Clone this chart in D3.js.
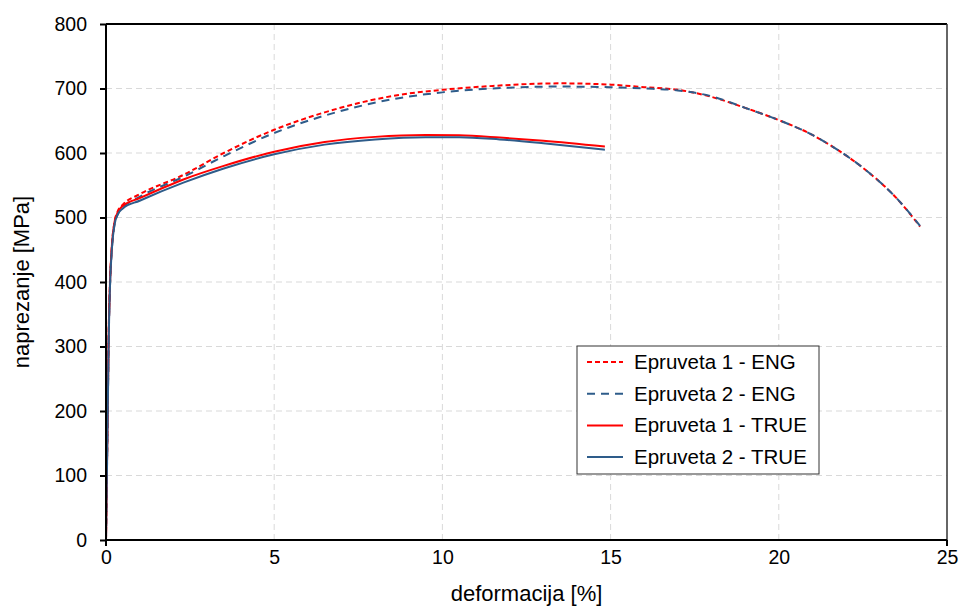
<!DOCTYPE html>
<html><head><meta charset="utf-8">
<script src="https://cdn.jsdelivr.net/npm/d3@7"></script>
<style>body{margin:0;background:#fff}svg{display:block}text{font-family:"Liberation Sans",Arial,sans-serif;fill:#000}</style>
</head><body><svg id="c" width="960" height="607"></svg>
<script>
const xTicks=[0,5,10,15,20,25];
const yTicks=[0,100,200,300,400,500,600,700,800];
const seriesNames=["Epruveta 1 - ENG","Epruveta 2 - ENG","Epruveta 1 - TRUE","Epruveta 2 - TRUE"];
const eng1=[[0,0],[0.05,200],[0.08,320],[0.12,400],[0.18,460],[0.25,492],[0.35,510],[0.5,520],[1,536],[2.3,566],[3.5,600],[5,636],[6.5,663],[8.7,690],[10,698],[11.5,704],[13.5,708],[15,706],[16,702],[17,698],[18,687],[19,670],[20,651],[21,628],[21.5,613],[22.5,577],[23.5,530],[24.2,486]];
const eng2=[[0,0],[0.05,190],[0.08,310],[0.12,395],[0.18,455],[0.25,488],[0.35,505],[0.5,515],[1,532],[2.3,563],[3.5,595],[5,631],[6.5,658],[8.7,685],[10,694],[11.5,700],[13.5,703],[15,702],[16,700],[17,697],[18,688],[19,670],[20,651],[21,628],[21.5,613],[22.5,577],[23.5,530],[24.2,487]];
const true1=[[0,0],[0.05,200],[0.08,320],[0.12,400],[0.18,460],[0.25,492],[0.35,508],[0.5,518],[1,530],[2.3,559],[3.5,580],[5,602],[6.5,617],[8,625],[9.5,628],[10.5,627.5],[11.7,624],[13,619],[14.83,610]];
const true2=[[0,0],[0.05,190],[0.08,310],[0.12,395],[0.18,455],[0.25,488],[0.35,505],[0.5,514],[1,526],[2.3,554],[3.5,576],[5,598],[6.5,613],[8,621],[9.5,624.5],[10.5,624.5],[11.7,621],[13,615],[14.83,605]];
const colors=["#ff0000","#2e5c8a","#ff0000","#2e5c8a"];
const dashes=["5,3","8,6",null,null];
const data=[eng1,eng2,true1,true2];

const svg=d3.select("#c");
const L=106,R=947,T=24,B=540;
const x=d3.scaleLinear().domain([0,25]).range([L,R]);
const y=d3.scaleLinear().domain([0,800]).range([B,T]);

const g=svg.append("g");
g.selectAll(".hg").data(yTicks.filter(v=>v>0&&v<800)).join("line")
 .attr("x1",L).attr("x2",R).attr("y1",d=>y(d)).attr("y2",d=>y(d))
 .attr("stroke","#d9d9d9").attr("stroke-width",1).attr("stroke-dasharray","6,4");
g.selectAll(".vg").data(xTicks.filter(v=>v>0&&v<25)).join("line")
 .attr("y1",T).attr("y2",B).attr("x1",d=>x(d)).attr("x2",d=>x(d))
 .attr("stroke","#d9d9d9").attr("stroke-width",1).attr("stroke-dasharray","6,4");

svg.append("line").attr("x1",L).attr("x2",R).attr("y1",T).attr("y2",T).attr("stroke","#000").attr("stroke-width",2);
svg.append("line").attr("x1",R).attr("x2",R).attr("y1",T).attr("y2",B).attr("stroke","#333").attr("stroke-width",1.5);

const line=d3.line().x(d=>x(d[0])).y(d=>y(d[1])).curve(d3.curveMonotoneX);
data.forEach((s,i)=>{
  const p=svg.append("path").attr("d",line(s)).attr("fill","none")
   .attr("stroke",colors[i]).attr("stroke-width",2);
  if(dashes[i]) p.attr("stroke-dasharray",dashes[i]);
});

const ya=svg.append("g").attr("transform",`translate(${L},0)`)
 .call(d3.axisLeft(y).tickValues(yTicks).tickSize(6).tickPadding(13).tickFormat(d3.format("d")));
const xa=svg.append("g").attr("transform",`translate(0,${B})`)
 .call(d3.axisBottom(x).tickValues(xTicks).tickSize(0).tickPadding(10).tickFormat(d3.format("d")));
[ya,xa].forEach(a=>{a.select(".domain").attr("stroke","#000").attr("stroke-width",2);
 a.selectAll(".tick line").attr("stroke","#000").attr("stroke-width",2);
 a.selectAll("text").attr("font-size","19.5px").attr("font-family","Liberation Sans, Arial, sans-serif").attr("fill","#000");});
ya.select(".domain").attr("d",`M0,${T}V${B}`);
xa.select(".domain").attr("d",`M${L},0H${R}`);
[0,25].forEach(v=>svg.append("line").attr("x1",x(v)).attr("x2",x(v)).attr("y1",B).attr("y2",B+6).attr("stroke","#000").attr("stroke-width",2));

svg.append("text").attr("x",(L+R)/2).attr("y",601).attr("text-anchor","middle").attr("font-size","22px").text("deformacija [%]");
svg.append("text").attr("transform",`translate(29,${(T+B)/2}) rotate(-90)`).attr("text-anchor","middle").attr("font-size","22px").text("naprezanje [MPa]");

const lg=svg.append("g");
lg.append("rect").attr("x",577).attr("y",346).attr("width",242).attr("height",128).attr("fill","#fff").attr("stroke","#333").attr("stroke-width",1);
seriesNames.forEach((n,i)=>{
  const yy=362+i*31.7;
  const l=lg.append("line").attr("x1",587).attr("x2",623).attr("y1",yy).attr("y2",yy).attr("stroke",colors[i]).attr("stroke-width",2);
  if(dashes[i]) l.attr("stroke-dasharray",dashes[i]);
  lg.append("text").attr("x",634).attr("y",yy+7).attr("font-size","20.5px").text(n);
});
</script></body></html>
